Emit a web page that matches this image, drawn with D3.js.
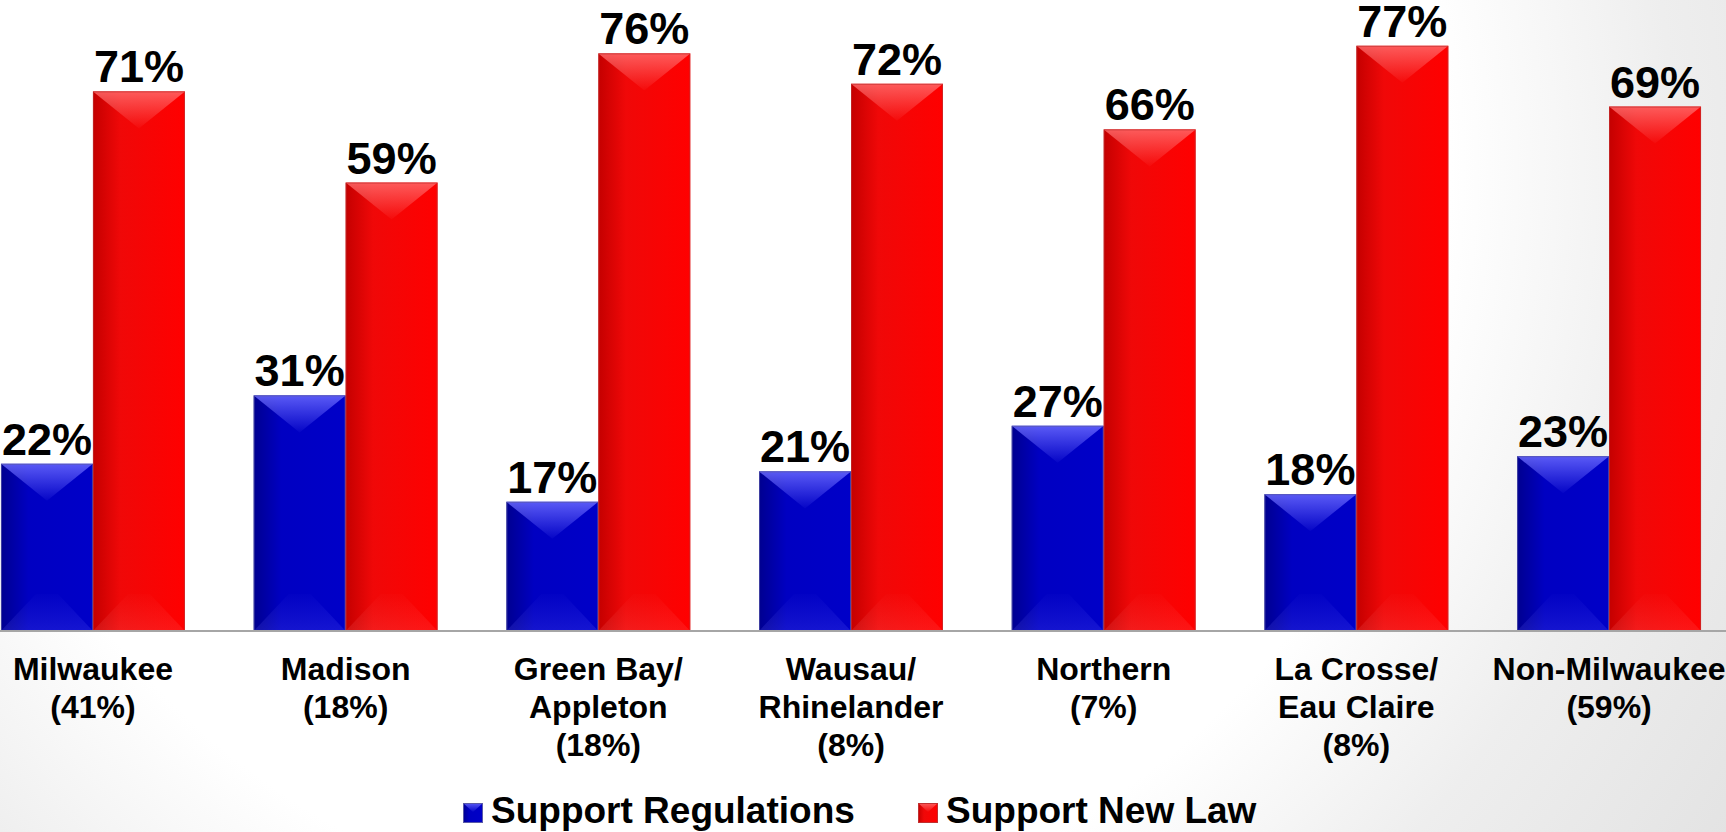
<!DOCTYPE html>
<html>
<head>
<meta charset="utf-8">
<script src="https://cdn.jsdelivr.net/npm/d3@7/dist/d3.min.js"></script>
<style>
  html, body { margin: 0; padding: 0; background: #fff; overflow: hidden; }
  svg { display: block; }
  text { font-family: "Liberation Sans", Arial, sans-serif; font-weight: bold; fill: #000; }
</style>
</head>
<body>
<svg id="chart" width="1726" height="832"></svg>
<script>
// Regions (with share of sample) and the two support measures, in percent
const categories = [
  "Milwaukee\n(41%)",
  "Madison\n(18%)",
  "Green Bay/\nAppleton\n(18%)",
  "Wausau/\nRhinelander\n(8%)",
  "Northern\n(7%)",
  "La Crosse/\nEau Claire\n(8%)",
  "Non-Milwaukee\n(59%)"
];
const seriesNames = ["Support Regulations", "Support New Law"];
const supportRegulations = [22, 31, 17, 21, 27, 18, 23];
const supportNewLaw = [71, 59, 76, 72, 66, 77, 69];

const W = 1726, H = 832;
const baseY = 631;

const svg = d3.select("#chart");
const defs = svg.append("defs");

// soft vignette behind everything: white upper-left, greying toward the right and bottom corners
const bg = defs.append("radialGradient").attr("id", "bg")
  .attr("gradientUnits", "userSpaceOnUse")
  .attr("cx", 700).attr("cy", 170).attr("r", 1250);
bg.append("stop").attr("offset", 0.6).attr("stop-color", "#ffffff");
bg.append("stop").attr("offset", 0.78).attr("stop-color", "#eeeeee");
bg.append("stop").attr("offset", 1).attr("stop-color", "#e2e2e2");
svg.append("rect").attr("width", W).attr("height", H).attr("fill", "url(#bg)");

const palette = [
  { id: "blue", dark: "#000090", main: "#0000c2", right: "#0000c8", edge: "#5a5aa8", hi: "#6a6aff" },
  { id: "red",  dark: "#c40000", main: "#f00808", right: "#ff0000", edge: "#c03030", hi: "#ff6a6a" }
];

palette.forEach(p => {
  const g = defs.append("linearGradient").attr("id", "body-" + p.id)
    .attr("x1", 0).attr("x2", 1).attr("y1", 0).attr("y2", 0);
  g.append("stop").attr("offset", 0).attr("stop-color", p.dark);
  g.append("stop").attr("offset", 0.3).attr("stop-color", p.main);
  g.append("stop").attr("offset", 1).attr("stop-color", p.right);

  const t = defs.append("linearGradient").attr("id", "top-" + p.id)
    .attr("x1", 0).attr("x2", 0).attr("y1", 0).attr("y2", 1);
  t.append("stop").attr("offset", 0).attr("stop-color", p.hi).attr("stop-opacity", 0.85);
  t.append("stop").attr("offset", 1).attr("stop-color", p.hi).attr("stop-opacity", 0.05);

  const b = defs.append("linearGradient").attr("id", "bot-" + p.id)
    .attr("x1", 0).attr("x2", 0).attr("y1", 0).attr("y2", 1);
  b.append("stop").attr("offset", 0).attr("stop-color", p.hi).attr("stop-opacity", 0.02);
  b.append("stop").attr("offset", 1).attr("stop-color", p.hi).attr("stop-opacity", 0.2);
});

const x0 = d3.scaleBand().domain(categories).range([-33.4, 1735.4])
  .paddingInner(0.272).paddingOuter(0.136);
const x1 = d3.scaleBand().domain(seriesNames).range([0, x0.bandwidth()]);
const y = d3.scaleLinear().domain([0, 80]).range([baseY, baseY - 608]);

const rows = categories.map((c, i) => ({
  cat: c,
  vals: [supportRegulations[i], supportNewLaw[i]]
}));

const bevel = 37;

const groups = svg.append("g").selectAll("g.grp").data(rows).join("g")
  .attr("class", "grp")
  .attr("transform", d => `translate(${x0(d.cat)},0)`);

groups.each(function (d) {
  const g = d3.select(this);
  d.vals.forEach((v, si) => {
    const p = palette[si];
    const bx = x1(seriesNames[si]);
    const bw = x1.bandwidth();
    const top = y(v);
    const bar = g.append("g");
    bar.append("rect")
      .attr("x", bx).attr("y", top).attr("width", bw).attr("height", baseY - top)
      .attr("fill", `url(#body-${p.id})`);
    const dd = Math.min(bevel, (baseY - top) / 2);
    // lighter facet along the top edge
    bar.append("polygon")
      .attr("points", [[bx, top], [bx + bw, top], [bx + bw / 2, top + dd]].map(q => q.join(",")).join(" "))
      .attr("fill", `url(#top-${p.id})`);
    // faint facet along the bottom edge
    bar.append("polygon")
      .attr("points", [[bx, baseY], [bx + bw, baseY], [bx + bw * 0.62, baseY - dd], [bx + bw * 0.38, baseY - dd]].map(q => q.join(",")).join(" "))
      .attr("fill", `url(#bot-${p.id})`);
    bar.append("rect")
      .attr("x", bx + 0.5).attr("y", top + 0.5).attr("width", bw - 1).attr("height", baseY - top - 1)
      .attr("fill", "none").attr("stroke", p.edge).attr("stroke-width", 1).attr("stroke-opacity", 0.7);

    g.append("text")
      .attr("x", bx + bw / 2).attr("y", top - 9)
      .attr("text-anchor", "middle")
      .attr("font-size", 45)
      .text(v + "%");
  });
});

// baseline
svg.append("line")
  .attr("x1", 0).attr("x2", W).attr("y1", baseY).attr("y2", baseY)
  .attr("stroke", "#a6a6a6").attr("stroke-width", 2);

// category labels
const xAxis = d3.axisBottom(x0).tickSize(0).tickFormat("");
const axisG = svg.append("g").attr("transform", `translate(0,${baseY})`).call(xAxis);
axisG.select(".domain").remove();
axisG.selectAll(".tick").each(function (c) {
  const t = d3.select(this).append("text")
    .attr("text-anchor", "middle")
    .attr("font-size", 32)
    .attr("font-family", "Liberation Sans, Arial, sans-serif")
    .attr("font-weight", "bold")
    .attr("fill", "#000");
  c.split("\n").forEach((line, li) => {
    t.append("tspan").attr("x", 0).attr("y", 49 + li * 38).text(line);
  });
});

// legend
const legendItems = [
  { name: seriesNames[0], p: palette[0], x: 463 },
  { name: seriesNames[1], p: palette[1], x: 918 }
];
const lg = svg.append("g").selectAll("g").data(legendItems).join("g")
  .attr("transform", d => `translate(${d.x},803)`);
lg.append("rect").attr("width", 20).attr("height", 20)
  .attr("fill", d => `url(#body-${d.p.id})`);
lg.append("polygon").attr("points", "0,0 20,0 10,9")
  .attr("fill", d => `url(#top-${d.p.id})`);
lg.append("rect").attr("x", 0.5).attr("y", 0.5).attr("width", 19).attr("height", 19)
  .attr("fill", "none").attr("stroke", d => d.p.edge).attr("stroke-width", 1);
lg.append("text").attr("x", 28).attr("y", 19.5)
  .attr("font-size", 37)
  .text(d => d.name);
</script>
</body>
</html>
